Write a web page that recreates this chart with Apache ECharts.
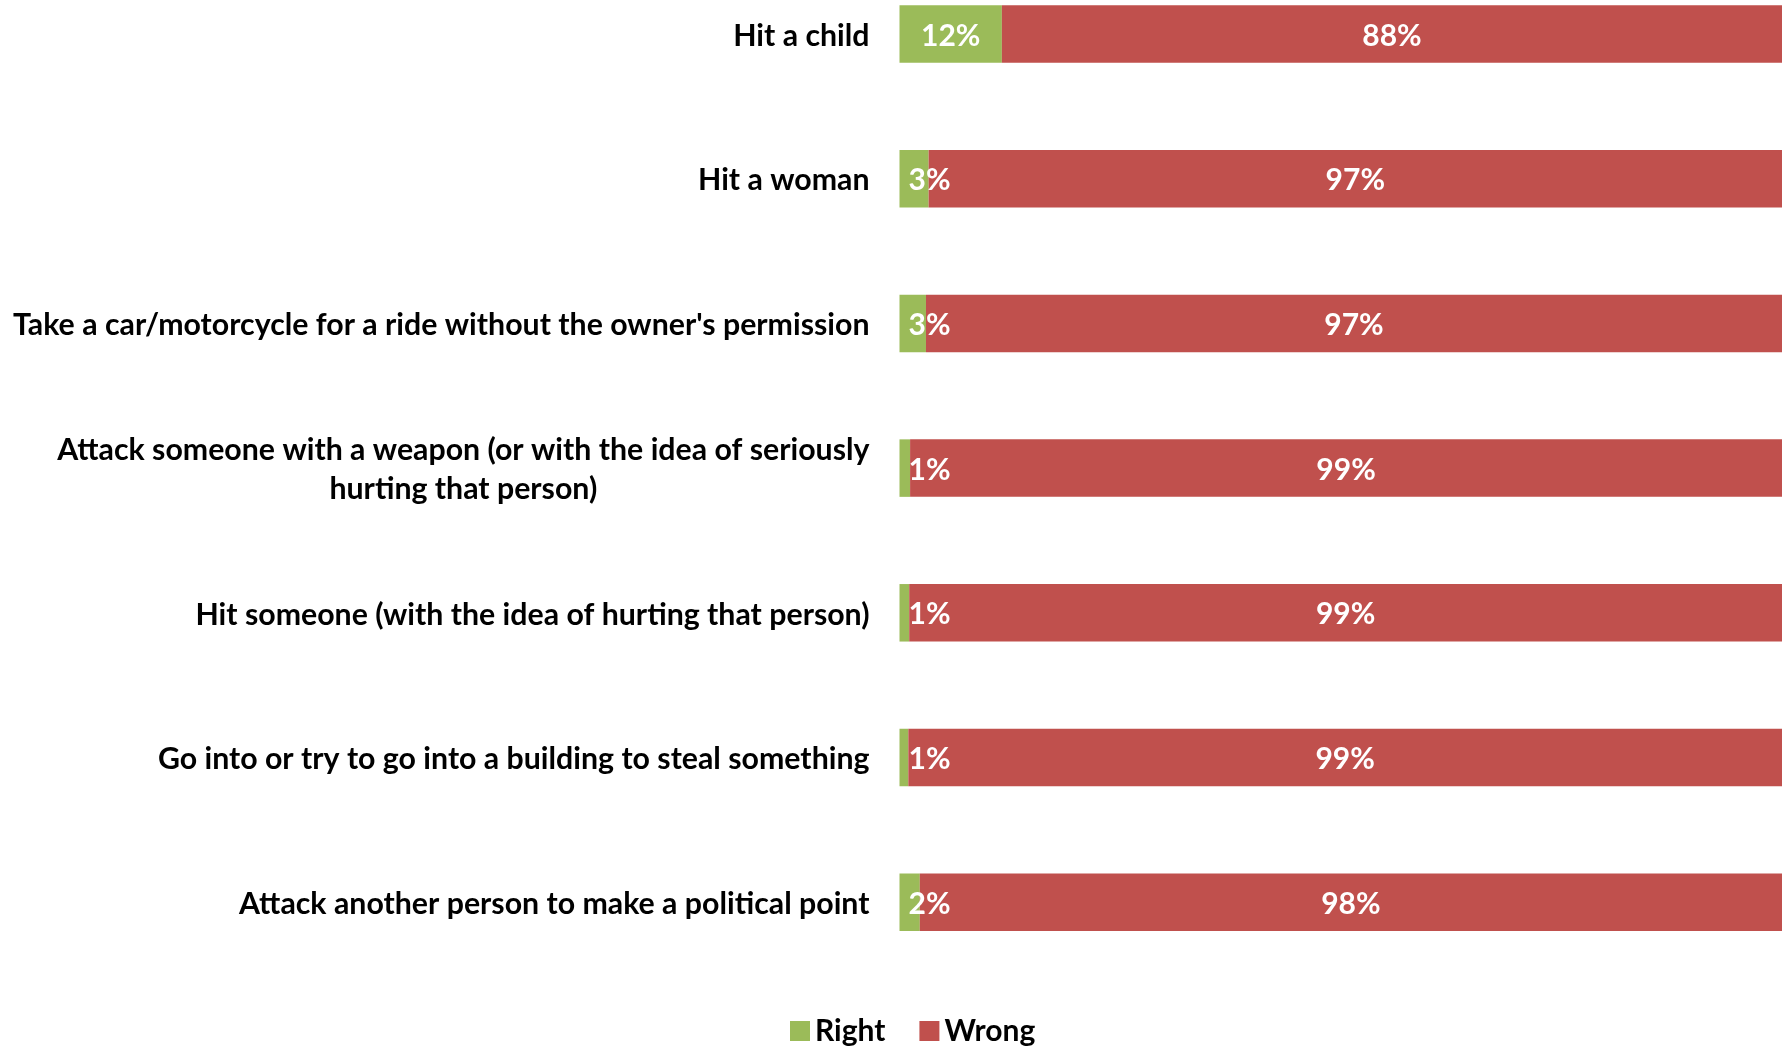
<!DOCTYPE html>
<html>
<head>
<meta charset="utf-8">
<script src="https://cdn.jsdelivr.net/npm/echarts@6/dist/echarts.min.js"></script>
<style>
  html, body { margin: 0; padding: 0; background: #fff; }
  #chart { width: 1782px; height: 1047px; }
</style>
</head>
<body>
<div id="chart"></div>
<script>
const categories = [
  'Hit a child',
  'Hit a woman',
  "Take a car/motorcycle for a ride without the owner's permission",
  'Attack someone with a weapon (or with the idea of seriously\nhurting that person)',
  'Hit someone (with the idea of hurting that person)',
  'Go into or try to go into a building to steal something',
  'Attack another person to make a political point'
];
const rightValues = [11.6, 3.3, 3.0, 1.2, 1.1, 1.0, 2.3];
const wrongValues = [88.4, 96.7, 97.0, 98.8, 98.9, 99.0, 97.7];
const seriesNames = ['Right', 'Wrong'];

const FONT = 'Lato, "Open Sans", sans-serif';
const chart = echarts.init(document.getElementById('chart'), null, { renderer: 'canvas' });

const pct = p => Math.round(p.value) + '%';
const labelBase = {
  show: true,
  color: '#fff',
  fontFamily: FONT,
  fontWeight: 'bold',
  fontSize: 30,
  offset: [0, 2],
  formatter: pct
};

const rightData = rightValues.map(v => ({
  value: v,
  label: v >= 5 ? { position: 'inside' } : { position: 'insideLeft', distance: 9 }
}));

chart.setOption({
  animation: false,
  backgroundColor: '#fff',
  grid: {
    left: 899.5,
    right: 0,
    top: -38.35,
    bottom: 72.45,
    containLabel: false,
    outerBoundsMode: 'none'
  },
  legend: {
    data: seriesNames,
    left: 785,
    top: 1011,
    icon: 'rect',
    itemWidth: 20,
    itemHeight: 20,
    itemGap: 34,
    textStyle: { fontFamily: FONT, fontWeight: 'bold', fontSize: 30, color: '#000' }
  },
  xAxis: {
    type: 'value',
    min: 0,
    max: 100,
    show: false
  },
  yAxis: {
    type: 'category',
    data: categories,
    inverse: true,
    axisLine: { show: false },
    axisTick: { show: false },
    splitLine: { show: false },
    axisLabel: {
      margin: 30,
      align: 'right',
      padding: [4, 0, 0, 0],
      formatter: v => v.split('\n').map(l => '{c|' + l + '}').join('\n'),
      rich: {
        c: {
          align: 'center',
          fontFamily: FONT,
          fontWeight: 'bold',
          fontSize: 30.3,
          lineHeight: 39,
          color: '#000'
        }
      }
    }
  },
  series: [
    {
      name: seriesNames[0],
      type: 'bar',
      stack: 'total',
      barWidth: 57.5,
      itemStyle: { color: '#9BBB59' },
      label: Object.assign({}, labelBase),
      data: rightData
    },
    {
      name: seriesNames[1],
      type: 'bar',
      stack: 'total',
      barWidth: 57.5,
      itemStyle: { color: '#C0504D' },
      label: Object.assign({ position: 'inside' }, labelBase),
      data: wrongValues
    }
  ]
});
</script>
</body>
</html>
